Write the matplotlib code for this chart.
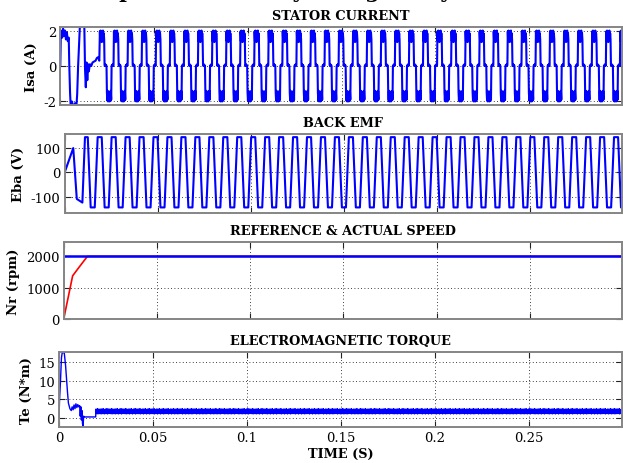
import numpy as np
import matplotlib
matplotlib.use("Agg")
import matplotlib.pyplot as plt

# ---------------- data ----------------
t_end = 0.2995
period = 0.0075            # electrical period at 2000 rpm (s)

# start-up transient of phase current (s, A)
isa_start_t = [0.0, 0.0003, 0.0010, 0.0015, 0.0020, 0.0025, 0.0030, 0.0035, 0.0040, 0.0045,
               0.0048, 0.0052, 0.0056, 0.0062, 0.0070, 0.0078, 0.0085, 0.0090, 0.0095, 0.0100,
               0.0105, 0.0112, 0.0120, 0.0128, 0.0132, 0.0136, 0.0140, 0.0144, 0.0148, 0.0152,
               0.0158, 0.0165, 0.0172, 0.0180, 0.0188, 0.0195, 0.0202, 0.0208]
isa_start_v = [0.0, 2.0, 1.6, 2.1, 1.7, 2.0, 1.5, 1.9, 1.4, 1.6,
               0.0, -1.5, -2.4, -2.0, -2.4, -2.1, -2.4, -1.6, 0.0, 1.2,
               2.4, 2.2, 2.4, 2.3, -0.2, -1.2, 0.2, -0.8, 0.1, -0.3,
               0.1, 0.0, 0.2, 0.25, 0.3, 0.45, 0.5, 0.3]
isa_steady_t0 = 0.0211
# one electrical period of the steady phase current, 36 steps of 10 deg (A)
isa_cycle = [1.95, 1.4, 2.0, 1.5, 1.9, 1.35, 1.95, 1.6, 2.0, 1.4, 1.85, 1.5,
             0.05, 0.0, 0.1, 0.0, 0.05, 0.0,
             -1.5, -1.95, -1.4, -2.0, -1.5, -1.9, -1.45, -2.0, -1.5, -1.95, -1.4, -1.9,
             0.0, 0.05, 0.0, 0.1, 0.0, 0.05]

# start-up of back EMF (s, V)
eba_start_t = [0.0, 0.0046, 0.0065, 0.0095, 0.0109, 0.0124]
eba_start_v = [0.0, 100.0, -110.0, -125.0, 145.0, 145.0]
eba_steady_t0 = 0.0124
# corners of one steady period of back EMF (electrical degrees, V)
eba_corner_deg = [0, 75, 180, 255, 360]
eba_corner_v = [145, -145, -145, 145, 145]

# speed (s, rpm)
nr_ref = 2000
nr_t = [0.0, 0.0048, 0.0082, 0.0127, 0.2995]
nr_v = [0.0, 1380.0, 1650.0, 2000.0, 2000.0]

# start-up of torque (s, N*m)
te_start_t = [0.0, 0.0003, 0.0008, 0.0013, 0.0017, 0.0028, 0.0035, 0.0045, 0.0050, 0.0058,
              0.0065, 0.0070, 0.0075, 0.0080, 0.0085, 0.0090, 0.0095, 0.0100, 0.0105, 0.0110,
              0.0113, 0.0116, 0.0119, 0.0122, 0.0125, 0.0128, 0.0131, 0.0135, 0.0140, 0.0195]
te_start_v = [0.0, 5.0, 10.0, 16.0, 17.4, 17.4, 14.0, 7.0, 4.0, 2.5,
              2.0, 3.0, 2.2, 3.5, 2.5, 3.8, 2.8, 3.6, 3.0, 3.3,
              0.5, 3.0, -0.5, 2.0, -1.5, -2.3, 0.5, 0.3, 0.3, 0.3]
te_steady_t0 = 0.0197
# ripple of steady torque over one electrical period, 36 steps (N*m)
te_cycle = [2.4, 1.2, 2.2, 1.4, 2.5, 1.1, 2.3, 1.3, 2.2, 1.2, 2.4, 1.4,
            2.3, 1.1, 2.4, 1.3, 2.2, 1.2, 2.5, 1.3, 2.3, 1.1, 2.2, 1.4,
            2.4, 1.2, 2.3, 1.3, 2.5, 1.1, 2.2, 1.4, 2.4, 1.2, 2.3, 1.3]

xticks = [0, 0.05, 0.1, 0.15, 0.2, 0.25]
xticklabels = ['0', '0.05', '0.1', '0.15', '0.2', '0.25']


def repeat_cycle(t0, cycle):
    n = int(np.ceil((t_end - t0) / period)) + 1
    vals = np.tile(np.asarray(cycle, float), n)
    tt = t0 + np.arange(vals.size) * period / len(cycle)
    m = tt <= t_end + 1e-9
    return tt[m], vals[m]


# ---------------- figure ----------------
W, H = 623, 464
fig = plt.figure(figsize=(W / 100, H / 100), dpi=100)
fig.patch.set_facecolor('white')

serif = 'DejaVu Serif'


def make_ax(left, top, bottom, right=622):
    return fig.add_axes([left / W, 1 - bottom / H, (right - left) / W, (bottom - top) / H])


def style(ax, title, ylabel, yticks, ylim, show_x=False):
    ax.set_xlim(0, t_end)
    ax.set_ylim(*ylim)
    ax.set_xticks(xticks)
    ax.set_yticks(yticks)
    ax.set_yticklabels([str(v) for v in yticks], fontfamily=serif, fontsize=9.5)
    if show_x:
        ax.set_xticklabels(xticklabels, fontfamily=serif, fontsize=9.5)
    else:
        ax.set_xticklabels([])
    ax.tick_params(direction='in', length=4, width=0.8, color='#222222', pad=3,
                   top=True, right=True)
    ax.grid(True, color='black', linestyle=(0, (1, 3)), linewidth=0.6)
    for s in ax.spines.values():
        s.set_color('#858585')
        s.set_linewidth(1.4)
    ax.set_title(title, fontfamily=serif, fontweight='bold', fontsize=9.3, pad=6)
    ax.set_ylabel(ylabel, fontfamily=serif, fontweight='bold', fontsize=9.5, labelpad=4)


blue = '#0000ff'

# stator current
ax1 = make_ax(60.3, 28, 106)
t_s, v_s = repeat_cycle(isa_steady_t0, isa_cycle)
ax1.plot(np.concatenate([isa_start_t, t_s]), np.concatenate([isa_start_v, v_s]),
         color=blue, lw=1.5)
style(ax1, 'STATOR CURRENT', 'Isa (A)', [-2, 0, 2], (-2.2, 2.2))

# back EMF
ax2 = make_ax(64.7, 135, 214)
deg = np.asarray(eba_corner_deg, float)
cyc_t = []
cyc_v = []
n_cyc = int(np.ceil((t_end - eba_steady_t0) / period)) + 1
for k in range(n_cyc):
    cyc_t.extend(eba_steady_t0 + (k + deg[1:] / 360.0) * period)
    cyc_v.extend(eba_corner_v[1:])
e_t = np.concatenate([eba_start_t, cyc_t])
e_v = np.concatenate([eba_start_v, cyc_v])
ax2.plot(e_t, e_v, color=blue, lw=1.5)
style(ax2, 'BACK EMF', 'Eba (V)', [-100, 0, 100], (-168, 158))

# speed
ax3 = make_ax(63.7, 243.3, 320)
ax3.plot(nr_t, nr_v, color='red', lw=1.2)
ax3.axhline(nr_ref, color=blue, lw=1.8)
style(ax3, 'REFERENCE & ACTUAL SPEED', 'Nr (rpm)', [0, 1000, 2000], (0, 2450))

# torque
ax4 = make_ax(59, 353, 427.7)
t_s, v_s = repeat_cycle(te_steady_t0, te_cycle)
ax4.plot(np.concatenate([te_start_t, t_s]), np.concatenate([te_start_v, v_s]),
         color=blue, lw=1.0)
style(ax4, 'ELECTROMAGNETIC TORQUE', 'Te (N*m)', [0, 5, 10, 15], (-2.3, 17.6), show_x=True)
ax4.set_xlabel('TIME (S)', fontfamily=serif, fontweight='bold', fontsize=9.3, labelpad=2)

# partially visible main title (cut at the top edge, as in the reference)
fig.text(0.55, 1.018, 'Speed Control by Using Fuzzy Controller', ha='center', va='center',
         fontfamily=serif, fontweight='bold', fontsize=15)

fig.savefig('out.png', dpi=100, facecolor='white')
